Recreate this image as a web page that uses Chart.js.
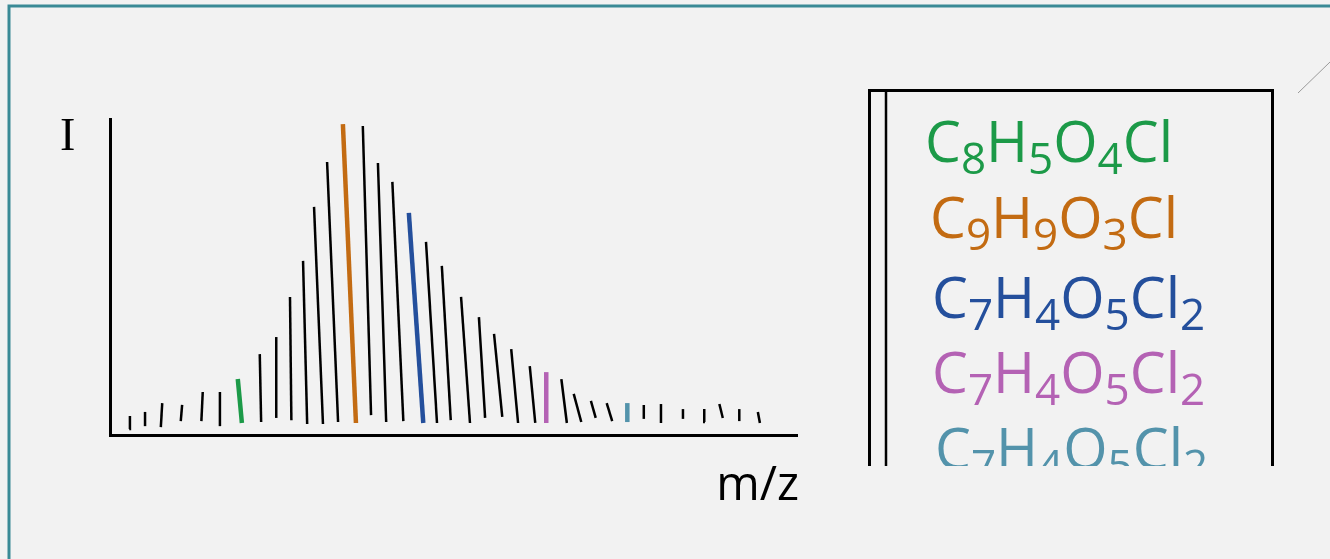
<!DOCTYPE html>
<html>
<head>
<meta charset="utf-8">
<script src="https://cdn.jsdelivr.net/npm/chart.js@4/dist/chart.umd.min.js"></script>
<style>
  html, body { margin: 0; padding: 0; background: #f2f2f2; }
  canvas { display: block; }
</style>
</head>
<body>
<canvas id="spectrum" width="1330" height="559"></canvas>
<script>
// peak foot / tip positions on the m/z axis, and foot / tip intensities (0-100)
const mzFoot = [2.8, 5.1, 7.4, 10.3, 13.3, 16.0, 19.2, 22.0, 24.2, 26.4, 28.7, 31.0, 33.2, 35.8, 38.0, 40.2, 42.7, 45.6, 47.6, 49.6,
  52.4, 54.6, 57.1, 59.4, 61.9, 63.5, 66.5, 68.6, 70.7, 73.1, 75.3, 77.7, 80.2, 83.4, 86.6, 89.2, 91.6, 94.6];
const mzTip = [2.9, 5.1, 7.6, 10.5, 13.5, 16.0, 18.6, 21.8, 24.2, 26.2, 28.1, 29.7, 31.6, 33.9, 36.8, 39.0, 41.1, 43.5, 46.0, 48.3,
  51.1, 53.7, 55.9, 58.4, 61.1, 63.5, 65.7, 67.5, 70.0, 72.3, 75.3, 77.7, 80.2, 83.4, 86.5, 88.7, 91.6, 94.3];
const intensity = [6.0, 7.3, 10.1, 9.5, 13.6, 13.6, 17.7, 25.6, 31.0, 43.7, 55.1, 72.2, 86.4, 98.4, 97.8, 86.1, 80.1, 70.3, 61.1, 53.5,
  43.7, 37.3, 32.0, 27.2, 21.8, 19.9, 17.7, 13.0, 10.8, 10.1, 10.1, 9.5, 9.8, 8.2, 8.2, 9.8, 8.2, 7.3];
const footLevel = [1.9, 2.8, 2.5, 4.4, 4.4, 2.8, 3.8, 4.1, 5.4, 4.7, 3.5, 3.5, 4.1, 3.8, 6.3, 4.1, 4.4, 3.8, 3.8, 4.7,
  3.8, 5.4, 5.7, 3.8, 3.8, 3.8, 3.8, 4.1, 5.4, 4.4, 4.1, 5.1, 3.8, 5.1, 4.1, 5.4, 4.4, 3.8];

// highlighted peaks and their formulas
const highlightPeaks = [6, 13, 17, 25, 30];
const formulas = ["C8H5O4Cl", "C9H9O3Cl", "C7H4O5Cl2", "C7H4O5Cl2", "C7H4O5Cl2"];
const highlightColors = ["#1c9a48", "#c36b12", "#244f9c", "#b462b4", "#5393ab"];

const datasets = intensity.map((h, i) => {
  const k = highlightPeaks.indexOf(i);
  return {
    data: [{ x: mzFoot[i], y: footLevel[i] }, { x: mzTip[i], y: h }],
    showLine: true,
    borderColor: k >= 0 ? highlightColors[k] : "#000",
    borderWidth: k >= 0 ? 4.5 : 2.5,
    pointRadius: 0
  };
});

const decor = {
  id: "decor",
  afterDraw(chart) {
    const ctx = chart.ctx;
    ctx.save();
    // slide frame
    ctx.strokeStyle = "#3a8a96";
    ctx.lineWidth = 3;
    ctx.beginPath();
    ctx.moveTo(9, 559);
    ctx.lineTo(9, 6);
    ctx.lineTo(1330, 6);
    ctx.stroke();

    // axis labels
    ctx.fillStyle = "#000";
    ctx.textBaseline = "alphabetic";
    ctx.font = "46px 'Liberation Serif'";
    ctx.textAlign = "left";
    ctx.fillText("I", 60, 150);
    ctx.font = "47px 'Open Sans'";
    ctx.textAlign = "right";
    ctx.fillText("m/z", 799, 500);

    // formula box
    ctx.strokeStyle = "#000";
    ctx.lineWidth = 3;
    ctx.beginPath();
    ctx.moveTo(869.5, 466);
    ctx.lineTo(869.5, 90.5);
    ctx.lineTo(1272.5, 90.5);
    ctx.lineTo(1272.5, 466);
    ctx.stroke();
    ctx.lineWidth = 2.5;
    ctx.beginPath();
    ctx.moveTo(886, 91);
    ctx.lineTo(886, 466);
    ctx.stroke();

    ctx.beginPath();
    ctx.rect(870, 92, 402, 374);
    ctx.clip();
    ctx.textAlign = "left";
    const starts = [925, 930, 932, 932, 935];
    const baselines = [162, 238, 318, 393, 469];
    formulas.forEach((f, i) => {
      ctx.fillStyle = highlightColors[i];
      let x = starts[i];
      f.match(/[A-Za-z]+|\d+/g).forEach(part => {
        const sub = /\d/.test(part);
        ctx.font = sub ? "44px 'Open Sans'" : "57px 'Open Sans'";
        ctx.fillText(part, x, baselines[i] + (sub ? 12 : 0));
        x += ctx.measureText(part).width;
      });
    });
    ctx.restore();

    // small stray stroke, top right
    ctx.save();
    ctx.strokeStyle = "#9a9a9a";
    ctx.lineWidth = 1;
    ctx.beginPath();
    ctx.moveTo(1298, 93);
    ctx.lineTo(1330, 62);
    ctx.stroke();
    ctx.restore();
  }
};

new Chart(document.getElementById("spectrum"), {
  type: "scatter",
  data: { datasets },
  options: {
    responsive: false,
    animation: false,
    events: [],
    layout: { padding: { left: 110, right: 533, top: 119, bottom: 124 } },
    plugins: { legend: { display: false }, tooltip: { enabled: false } },
    scales: {
      x: {
        min: 0, max: 100,
        grid: { display: false, drawTicks: false },
        ticks: { display: false },
        border: { display: true, color: "#000", width: 3 }
      },
      y: {
        min: 0, max: 100,
        grid: { display: false, drawTicks: false },
        ticks: { display: false },
        border: { display: true, color: "#000", width: 3 }
      }
    }
  },
  plugins: [decor]
});
</script>
</body>
</html>
